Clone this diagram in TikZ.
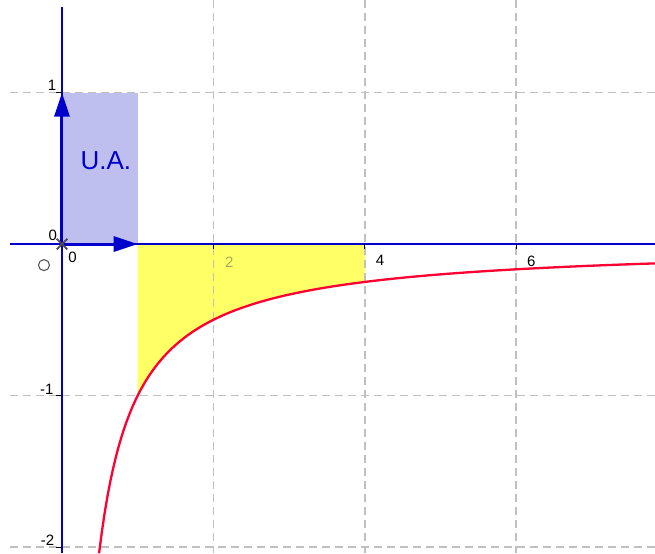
\documentclass[tikz,border=0pt]{standalone}
\usepackage{fontspec}
\setmainfont{Liberation Sans}
\usetikzlibrary{arrows.meta}
\definecolor{axisblue}{RGB}{0,0,204}
\definecolor{uafill}{RGB}{191,191,239}
\definecolor{yfill}{RGB}{255,255,102}
\definecolor{curvered}{RGB}{255,0,51}
\definecolor{gridgray}{RGB}{192,192,192}
\definecolor{olive2}{RGB}{170,170,90}
\tikzset{
  gridline/.style={draw=gridgray, line width=1.5pt, dash pattern=on 8pt off 5pt},
  axisline/.style={draw=axisblue, line width=2pt},
  vec/.style={draw=axisblue, line width=3pt, -{Triangle[length=24pt,width=15pt]}},
  ticklbl/.style={font=\fontsize{15pt}{17pt}\selectfont, inner sep=0pt},
  tickmark/.style={draw=black, line width=1pt},
}
\begin{document}
\begin{tikzpicture}[x=75.7pt,y=151.5pt]
\useasboundingbox (-0.819,-2.040) rectangle (7.834,1.611);
% fills
\fill[uafill] (0,0) rectangle (1,1);
\fill[yfill] (1,0) -- (4,0) -- (4,-0.25) -- plot[domain=4:1,samples=60] (\x,{-1/\x}) -- cycle;
% grid
\foreach \gx in {2,4,6} \draw[gridline] (\gx,1.611) -- (\gx,-2.040);
\foreach \gy in {1,-1,-2} \draw[gridline] (-0.69,\gy) -- (7.834,\gy);
% axes
\coordinate (xl) at (-0.69,0);
\coordinate (xr) at (7.834,0);
\coordinate (yt) at (0,1.565);
\coordinate (yb) at (0,-2.040);
\draw[axisline] (xl) -- (xr);
\draw[axisline] (yt) -- (yb);
% ticks
\foreach \gx in {2,4,6} \draw[tickmark] (\gx,0) -- ++(0,-0.03);
\foreach \gy in {1,-1,-2} \draw[tickmark] (0,\gy) -- ++(-0.08,0);
% curve
\draw[curvered, line width=2.3pt] plot[domain=0.49:7.834,samples=200] (\x,{-1/\x});
% vectors
\coordinate (O) at (0,0);
\coordinate (e1) at (1,0);
\coordinate (e2) at (0,1);
\draw[vec] (O) -- (e1);
\draw[vec] (O) -- (e2);
% origin cross
\draw[black!70, line width=1.7pt] (-0.07,-0.035) -- (0.07,0.035) (-0.07,0.035) -- (0.07,-0.035);
% open circle
\draw[black!70, line width=1pt] (-0.238,-0.139) circle (5.5pt);
% labels
\node[ticklbl] (l0a) at (-0.12,0.055) {0};
\node[ticklbl] (l0b) at (0.14,-0.085) {0};
\node[ticklbl, text=olive2] (l2) at (2.21,-0.12) {2};
\node[ticklbl] (l4) at (4.2,-0.105) {4};
\node[ticklbl] (l6) at (6.2,-0.115) {6};
\node[ticklbl] (l1) at (-0.13,1.045) {1};
\node[ticklbl] (lm1) at (-0.2,-0.96) {-1};
\node[ticklbl] (lm2) at (-0.19,-1.955) {-2};
\node[text=axisblue, font=\fontsize{26pt}{29pt}\selectfont, inner sep=0pt] (ua) at (0.58,0.55) {U.A.};
\end{tikzpicture}
\end{document}
